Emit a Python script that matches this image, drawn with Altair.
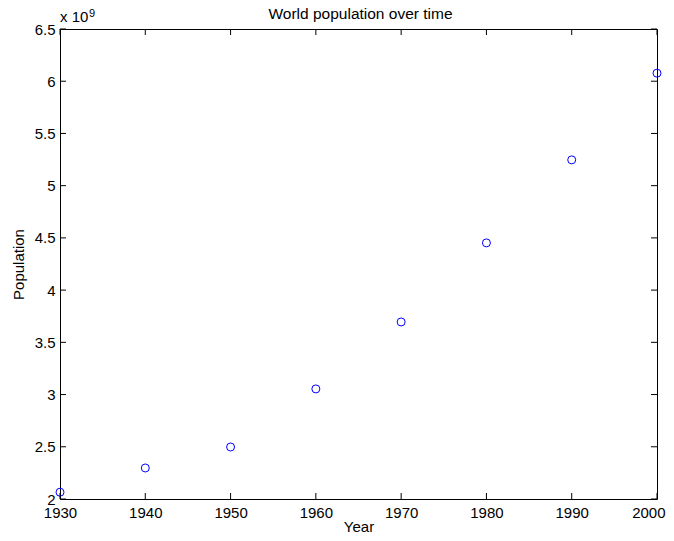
import altair as alt
import pandas as pd

# Data (population in units of 10^9)
years = [1930, 1940, 1950, 1960, 1970, 1980, 1990, 2000]
population = [2.065, 2.297, 2.498, 3.054, 3.695, 4.452, 5.247, 6.077]

x_ticks = [1930, 1940, 1950, 1960, 1970, 1980, 1990, 2000]
y_ticks = [2, 2.5, 3, 3.5, 4, 4.5, 5, 5.5, 6, 6.5]

chart_title = "World population over time"
exponent_base = "x 10"
exponent_power = "9"

W, H = 597, 470
TL = 6  # tick length (inward)
FONT = "Liberation Sans"
FS = 15

df = pd.DataFrame({"Year": years, "Population": population})
xt = pd.DataFrame({"Year": x_ticks})
yt = pd.DataFrame({"Population": y_ticks})

xscale = alt.Scale(domain=[1930, 2000], nice=False, zero=False)
yscale = alt.Scale(domain=[2, 6.5], nice=False, zero=False)

last_x = "datum.value == %d" % x_ticks[-1]
xaxis = alt.Axis(values=x_ticks, format="d", grid=False, ticks=False, tickSize=0,
                 domain=False, labelPadding=6, labelFontSize=FS, labelFont=FONT,
                 labelColor="black", title="Year", titleFont=FONT, titleFontSize=FS,
                 titleFontWeight="normal", titleColor="black",
                 titleBaseline="alphabetic", titleY=32,
                 labelFlush=False,
                 labelAlign=alt.condition(last_x, alt.value("right"), alt.value("center")),
                 labelOffset=alt.condition(last_x, alt.value(8), alt.value(0)))
yaxis = alt.Axis(values=y_ticks, grid=False, ticks=False, tickSize=0, domain=False,
                 labelPadding=5, labelFontSize=FS, labelFont=FONT, labelColor="black",
                 labelExpr="datum.value", title="Population", titleFont=FONT,
                 titleFontSize=FS, titleFontWeight="normal", titleColor="black",
                 titlePadding=8, labelFlush=False)

X = alt.X("Year:Q", scale=xscale, axis=xaxis)
Y = alt.Y("Population:Q", scale=yscale, axis=yaxis)

points = alt.Chart(df).mark_point(shape="circle", filled=False, color="#0000ff",
                                  size=64, strokeWidth=1, opacity=1).encode(x=X, y=Y)

tick_style = dict(color="black", strokeWidth=1)

xb = alt.Chart(xt).mark_rule(**tick_style).encode(
    x=X, y=alt.value(H), y2=alt.value(H - TL))
xtop = alt.Chart(xt).mark_rule(**tick_style).encode(
    x=X, y=alt.value(0), y2=alt.value(TL))
yl = alt.Chart(yt).mark_rule(**tick_style).encode(
    y=Y, x=alt.value(0), x2=alt.value(TL))
yr = alt.Chart(yt).mark_rule(**tick_style).encode(
    y=Y, x=alt.value(W), x2=alt.value(W - TL))

title_mark = alt.Chart(pd.DataFrame({"s": [chart_title]})).mark_text(
    align="center", baseline="alphabetic", font=FONT, fontSize=15.5, color="black").encode(
    text="s:N", x=alt.value(W / 2 + 2), y=alt.value(-10))
exp_base = alt.Chart(pd.DataFrame({"s": [exponent_base]})).mark_text(
    align="left", baseline="alphabetic", font=FONT, fontSize=FS, color="black").encode(
    text="s:N", x=alt.value(0), y=alt.value(-7))
exp_sup = alt.Chart(pd.DataFrame({"s": [exponent_power]})).mark_text(
    align="left", baseline="alphabetic", font=FONT, fontSize=11, color="black").encode(
    text="s:N", x=alt.value(29), y=alt.value(-12))

chart = alt.layer(points, xb, xtop, yl, yr, title_mark, exp_base, exp_sup).properties(
    width=W, height=H,
    autosize=alt.AutoSizeParams(type="none"),
    padding={"left": 52, "top": 21, "right": 9, "bottom": 34},
    background="white",
).configure_view(stroke="black", strokeWidth=1)

chart.save("out.html", embed_options={"renderer": "svg", "actions": False})
